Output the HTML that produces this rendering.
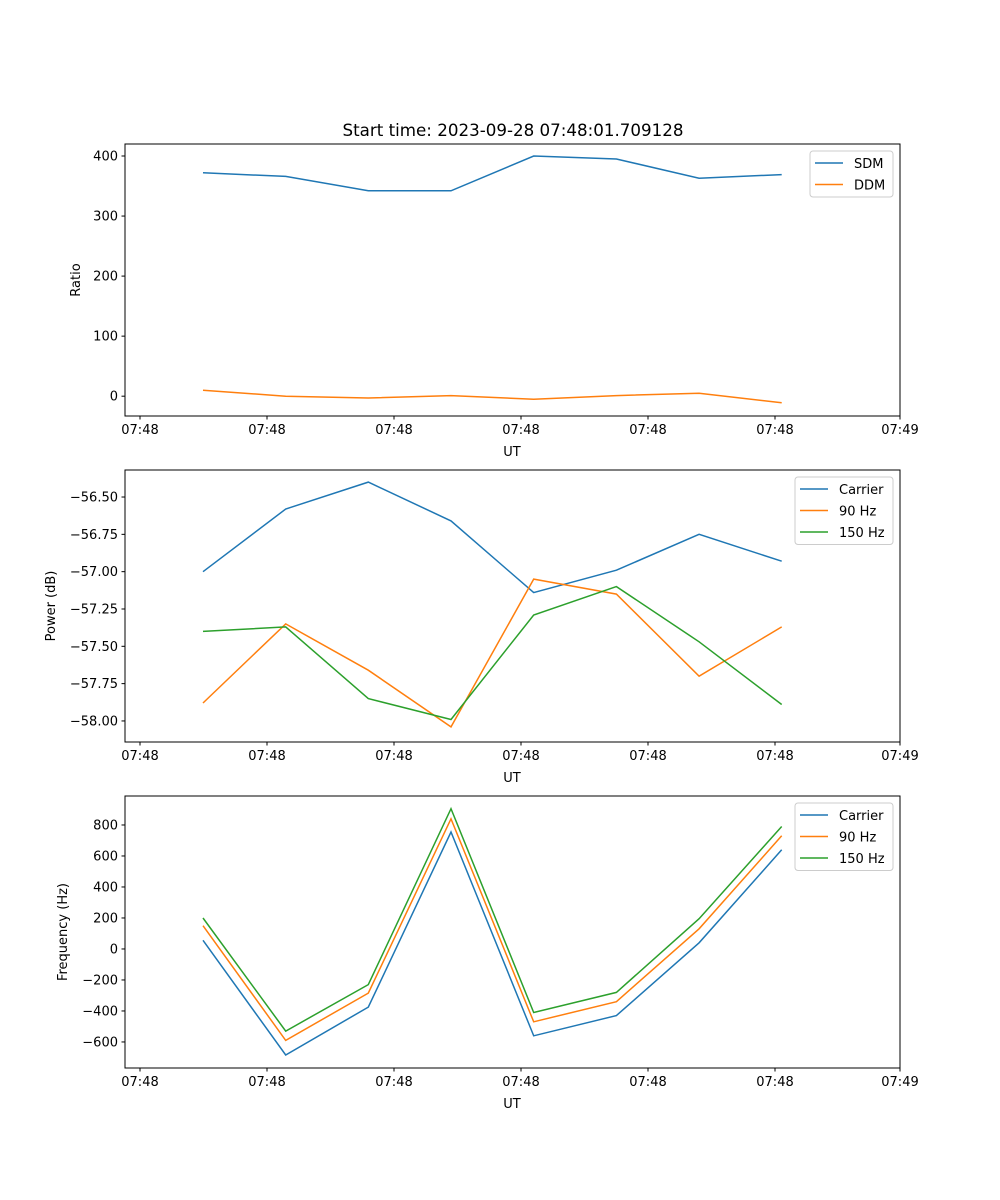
<!DOCTYPE html>
<html><head><meta charset="utf-8"><style>
body{margin:0;background:#fff}
svg{display:block;font-family:"DejaVu Sans","Liberation Sans",sans-serif}
</style></head><body>
<svg id="fig" width="1000" height="1200">
<text x="513" y="136" font-size="16.7" text-anchor="middle">Start time: 2023-09-28 07:48:01.709128</text>
</svg>
<script>
const times = [4.96, 11.47, 17.98, 24.49, 31.0, 37.51, 44.02, 50.53];
const xTickTimes = [0, 10, 20, 30, 40, 50, 60];
const xTickLabels = ["07:48","07:48","07:48","07:48","07:48","07:48","07:49"];
const sdm = [372, 366, 342, 342, 400, 395, 363, 369];
const ddm = [10, 0, -3, 1, -5, 1, 5, -11];
const carrierPow = [-57.0, -56.58, -56.40, -56.66, -57.14, -56.99, -56.75, -56.93];
const hz90Pow = [-57.88, -57.35, -57.66, -58.04, -57.05, -57.15, -57.70, -57.37];
const hz150Pow = [-57.40, -57.37, -57.85, -57.99, -57.29, -57.10, -57.47, -57.89];
const carrierFreq = [56, -684, -375, 755, -560, -430, 40, 640];
const hz90Freq = [150, -590, -285, 840, -470, -340, 130, 730];
const hz150Freq = [200, -530, -230, 905, -410, -280, 195, 790];
const ratioTicks = [0, 100, 200, 300, 400];
const powTicks = [-58.0, -57.75, -57.5, -57.25, -57.0, -56.75, -56.5];
const freqTicks = [-600, -400, -200, 0, 200, 400, 600, 800];

const NS = "http://www.w3.org/2000/svg";
const svg = document.getElementById('fig');
const C = ["#1f77b4", "#ff7f0e", "#2ca02c"];
const L = 125, R = 900;
function xs(t){ return 140 + t * 12.7; }
function mk(tag, attrs, parent){ const e = document.createElementNS(NS, tag); for (const k in attrs) e.setAttribute(k, attrs[k]); (parent||svg).appendChild(e); return e; }

function panel(top, bottom, ymin, ymax, ticks, fmt, ylabel, ylabelX, series, names, legend, pname){
  const g = mk('g', {});
  
  
  const ys = v => bottom - (v - ymin) / (ymax - ymin) * (bottom - top);
  series.forEach((s, i) => {
    const p = mk('polyline', {points: s.map((v, j) => xs(times[j]).toFixed(1) + ',' + ys(v).toFixed(1)).join(' '), fill: 'none', stroke: C[i], 'stroke-width': 1.5}, g);
    
    
  });
  mk('rect', {x: L, y: top, width: R - L, height: bottom - top, fill: 'none', stroke: '#000', 'stroke-width': 1}, g);
  xTickTimes.forEach((t, i) => {
    const x = Math.min(xs(t), R);
    mk('line', {x1: x, x2: x, y1: bottom, y2: bottom + 3.5, stroke: '#000'}, g);
    const tx = mk('text', {x: x, y: bottom + 18, 'font-size': 13, 'text-anchor': 'middle'}, g);
    tx.textContent = xTickLabels[i];
    
    
  });
  const xl = mk('text', {x: 512, y: bottom + 40, 'font-size': 13, 'text-anchor': 'middle'}, g);
  xl.textContent = 'UT';
  
  
  ticks.forEach(v => {
    const y = ys(v);
    mk('line', {x1: L, x2: L - 3.5, y1: y, y2: y, stroke: '#000'}, g);
    const tx = mk('text', {x: L - 7, y: y + 4.5, 'font-size': 13, 'text-anchor': 'end'}, g);
    tx.textContent = fmt(v);
    
    
  });
  const cy = (top + bottom) / 2;
  const yl = mk('text', {x: ylabelX, y: cy, 'font-size': 13, 'text-anchor': 'middle', transform: 'rotate(-90 ' + ylabelX + ' ' + cy + ')'}, g);
  yl.textContent = ylabel;
  
  
  const lg = mk('g', {}, g);
  
  
  mk('rect', {x: legend[0], y: top + 7, width: 893 - legend[0], height: names.length * 21.5 + 3, rx: 3, fill: '#fff', 'fill-opacity': 0.8, stroke: '#ccc'}, lg);
  names.forEach((n, i) => {
    const y = top + 19 + i * 21.5;
    mk('line', {x1: legend[0] + 5, x2: legend[0] + 33, y1: y, y2: y, stroke: C[i], 'stroke-width': 1.5}, lg);
    const tx = mk('text', {x: legend[0] + 44, y: y + 5, 'font-size': 13}, lg);
    tx.textContent = n;
    
    
  });
}
panel(144, 416, -33, 420, ratioTicks, v => String(v), 'Ratio', 80, [sdm, ddm], ['SDM', 'DDM'], [810], 'ratio-panel');
panel(470, 742, -58.141, -56.319, powTicks, v => v.toFixed(2).replace('-', '\u2212'), 'Power (dB)', 55, [carrierPow, hz90Pow, hz150Pow], ['Carrier', '90 Hz', '150 Hz'], [795], 'power-panel');
panel(796, 1068, -768, 987, freqTicks, v => String(v).replace('-', '\u2212'), 'Frequency (Hz)', 67, [carrierFreq, hz90Freq, hz150Freq], ['Carrier', '90 Hz', '150 Hz'], [795], 'frequency-panel');
</script>
</body></html>
